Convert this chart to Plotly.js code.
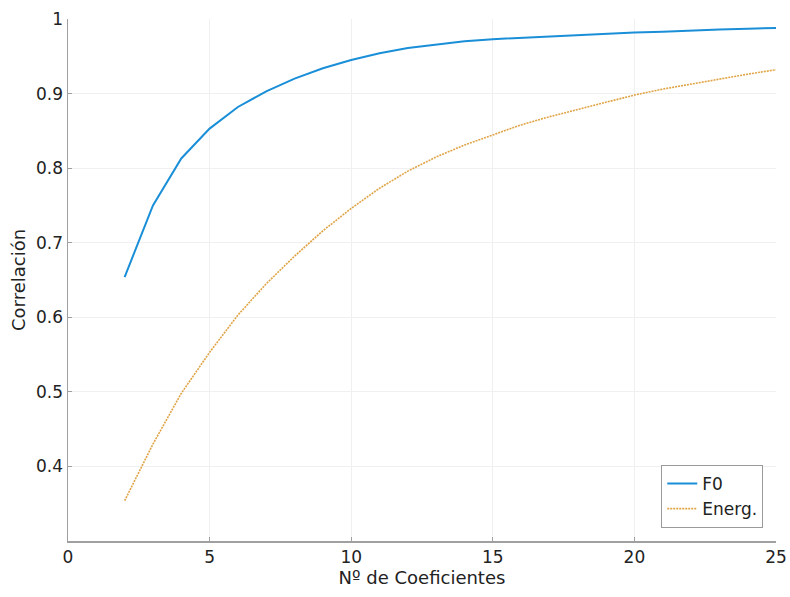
<!DOCTYPE html>
<html>
<head>
<meta charset="utf-8">
<script src="https://cdn.plot.ly/plotly-3.0.1.min.js"></script>
<style>
  html, body { margin: 0; padding: 0; background: #ffffff; }
  #chart { width: 790px; height: 597px; }
</style>
</head>
<body>
<div id="chart"></div>
<script>
// Number of coefficients
const coeficientes = [2, 3, 4, 5, 6, 7, 8, 9, 10, 11, 12, 13, 14, 15, 16, 17, 18, 19, 20, 21, 22, 23, 24, 25];

// Correlation for F0
const corrF0 = [0.654, 0.750, 0.813, 0.853, 0.882, 0.903, 0.920, 0.934, 0.945, 0.954, 0.961, 0.966,
                0.970, 0.973, 0.975, 0.977, 0.979, 0.980, 0.982, 0.983, 0.985, 0.986, 0.987, 0.988];

// Correlation for energy
const corrEnerg = [0.354, 0.430, 0.498, 0.553, 0.603, 0.645, 0.682, 0.716, 0.746, 0.773, 0.796, 0.815,
                   0.831, 0.845, 0.858, 0.869, 0.879, 0.889, 0.898, 0.906, 0.913, 0.920, 0.926, 0.932];

const seriesNames = ["F0", "Energ."];

const xTicks = [0, 5, 10, 15, 20, 25];
const yTicks = [0.4, 0.5, 0.6, 0.7, 0.8, 0.9, 1];
const yTickText = ["0.4", "0.5", "0.6", "0.7", "0.8", "0.9", "1"];

const font = "DejaVu Sans, Verdana, sans-serif";

const traces = [
  {
    x: coeficientes, y: corrF0, name: seriesNames[0],
    type: "scatter", mode: "lines",
    line: { color: "#1a8fd8", width: 2 }
  },
  {
    x: coeficientes, y: corrEnerg, name: seriesNames[1],
    type: "scatter", mode: "lines",
    line: { color: "#e0a446", width: 1.6, dash: "2px,1px" }
  }
];

const axisCommon = {
  showline: true, linecolor: "#a0a0a0", linewidth: 1.5,
  mirror: false, zeroline: false,
  showgrid: true, gridcolor: "#f0f0f0", gridwidth: 1,
  ticks: "inside", ticklen: 4, tickcolor: "#a0a0a0",
  tickfont: { family: font, size: 17, color: "#222222" }
};

const layout = {
  width: 790, height: 597,
  margin: { l: 68, r: 14, t: 19, b: 56 },
  paper_bgcolor: "#ffffff", plot_bgcolor: "#ffffff",
  font: { family: font, color: "#222222" },
  showlegend: true,
  legend: {
    x: 0.982, y: 0.025, xanchor: "right", yanchor: "bottom",
    bgcolor: "#ffffff", bordercolor: "#9a9a9a", borderwidth: 1,
    font: { family: font, size: 17, color: "#222222" },
    tracegroupgap: 0
  },
  xaxis: Object.assign({}, axisCommon, {
    range: [0, 25], tickvals: xTicks,
    title: { text: "Nº de Coeficientes", font: { family: font, size: 18, color: "#222222" }, standoff: 4 }
  }),
  yaxis: Object.assign({}, axisCommon, {
    range: [0.3, 1], tickvals: yTicks, ticktext: yTickText,
    title: { text: "Correlación", font: { family: font, size: 18, color: "#222222" }, standoff: 6 }
  })
};

Plotly.newPlot("chart", traces, layout, { displayModeBar: false, staticPlot: true });
</script>
</body>
</html>
